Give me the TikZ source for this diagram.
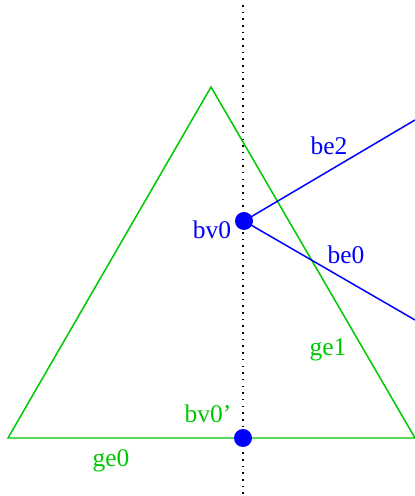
\documentclass[tikz,border=0pt]{standalone}
\usepackage{fontspec}
\setmainfont{Liberation Serif}
\usetikzlibrary{positioning}
\definecolor{GEGreen}{RGB}{0,200,0}
\definecolor{BVBlue}{RGB}{0,0,255}

\begin{document}
\begin{tikzpicture}[x=0.02cm, y=0.02cm,
    edgeline/.style={line width=0.85pt},
    vertexdot/.style={circle, fill=BVBlue, inner sep=0pt, minimum size=0.36cm},
    lbl/.style={font=\fontsize{14.5}{17}\selectfont, inner sep=0pt}]
  \useasboundingbox (0,0) rectangle (415,496);
  % split line
  \coordinate (top) at (243,491);
  \coordinate (bot) at (243,2);
  \draw[dash pattern=on 0.9pt off 2.9pt, line width=0.9pt] (top) -- (bot);
  % green triangle
  \coordinate (gA) at (211,409);
  \coordinate (gL) at (8,58);
  \coordinate (gR) at (415,58);
  \draw[edgeline, GEGreen] (gL) -- (gA) -- (gR) -- cycle;
  % blue vertices
  \node[vertexdot] (bv0) at (244,275) {};
  \node[vertexdot] (bv0p) at (243,58) {};
  \coordinate (e2) at (415,376);
  \coordinate (e0) at (415,176);
  \draw[edgeline, BVBlue] (bv0.center) -- (e2);
  \draw[edgeline, BVBlue] (bv0.center) -- (e0);
  % labels
  \node[lbl, BVBlue] (lbe2) at (329,350) {be2};
  \node[lbl, BVBlue] (lbv0) at (212,266) {bv0};
  \node[lbl, BVBlue] (lbe0) at (346,241) {be0};
  \node[lbl, GEGreen] (lge1) at (328,146) {ge1};
  \node[lbl, GEGreen] (lbv0p) at (208,82) {bv0'};
  \node[lbl, GEGreen] (lge0) at (111,35) {ge0};
\end{tikzpicture}
\end{document}
